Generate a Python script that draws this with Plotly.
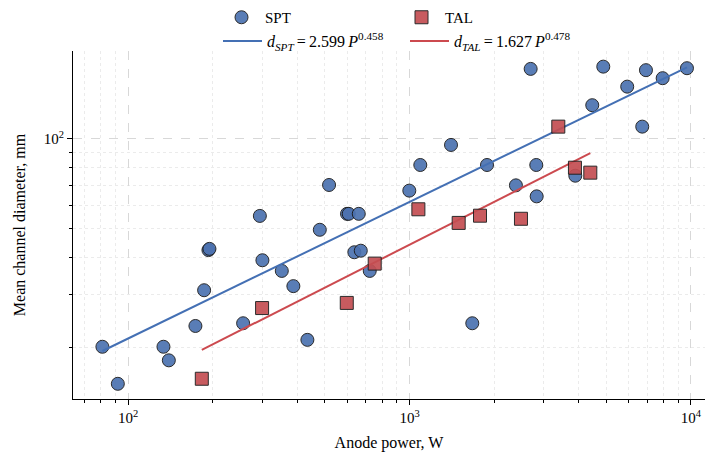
import plotly.graph_objects as go
import numpy as np

# ---------------- data ----------------
spt_power = [81.0, 91.9, 133.5, 139.5, 173.4, 186.2, 192.9, 194.5, 256.2, 293.8,
             300.0, 351.6, 386.5, 433.5, 479.8, 517.6, 599.5, 608.0, 660.0, 636.6,
             671.0, 722.0, 998.0, 1092.0, 1404.0, 1671.0, 1885.0, 2388.0, 2694.0, 2830.0,
             2821.0, 3882.0, 4460.0, 4881.0, 5937.0, 6714.0, 6921.0, 7934.0, 9680.0]
spt_diam = [20.1, 15.1, 20.1, 18.1, 23.6, 31.1, 42.4, 42.8, 24.1, 55.2,
            39.2, 36.1, 32.1, 21.2, 49.6, 70.1, 56.1, 56.1, 56.1, 41.7,
            42.2, 36.1, 67.1, 81.8, 95.5, 24.1, 81.8, 69.9, 171.8, 64.2,
            81.8, 75.3, 129.8, 174.8, 149.8, 110.0, 170.1, 159.9, 172.7]

tal_power = [182.7, 299.2, 598.3, 752.0, 1075.0, 1495.0, 1780.0, 2489.0, 3378.0, 3871.0, 4389.0]
tal_diam = [15.7, 27.1, 28.2, 38.2, 58.1, 52.3, 55.3, 54.0, 110.0, 80.1, 77.1]

# power-law fits d = a * P^b (coefficients from the legend)
spt_a, spt_b = 2.599, 0.458
tal_a, tal_b = 1.627, 0.478

x_tickvals = [100, 1000, 10000]
x_ticktext = ["10<sup>2</sup>", "10<sup>3</sup>", "10<sup>4</sup>"]
y_tickvals = [100]
y_ticktext = ["10<sup>2</sup>"]
x_minor = [m * d for d in (10, 100, 1000) for m in range(2, 10)]
y_minor = [m * d for d in (10, 100) for m in range(2, 10)]

spt_fit_x = np.array([min(spt_power), max(spt_power)])
tal_fit_x = np.array([min(tal_power), max(tal_power)])

FONT = "Liberation Serif, Times New Roman, serif"
BLUE = "#4C72B0"
RED = "#C44E52"
LBLUE = "#4470B4"
LRED = "#CC4A4F"

fig = go.Figure()

fig.add_trace(go.Scatter(
    x=spt_power, y=spt_diam, mode="markers", name="SPT",
    marker=dict(symbol="circle", size=13, color=BLUE, opacity=0.92,
                line=dict(color="#1a1a1a", width=1)),
    legend="legend"))

fig.add_trace(go.Scatter(
    x=spt_fit_x, y=spt_a * spt_fit_x ** spt_b, mode="lines",
    name="<i>d</i><sub><i>SPT</i></sub>\u2009=\u20092.599\u2009<i>P</i><sup>0.458</sup>",
    line=dict(color=LBLUE, width=2), legend="legend2"))

fig.add_trace(go.Scatter(
    x=tal_fit_x, y=tal_a * tal_fit_x ** tal_b, mode="lines",
    name="<i>d</i><sub><i>TAL</i></sub>\u2009=\u20091.627\u2009<i>P</i><sup>0.478</sup>",
    line=dict(color=LRED, width=2), legend="legend2"))

fig.add_trace(go.Scatter(
    x=tal_power, y=tal_diam, mode="markers", name="TAL",
    marker=dict(symbol="square", size=13, color=RED, opacity=0.92,
                line=dict(color="#1a1a1a", width=1)),
    legend="legend"))

axis_common = dict(
    type="log", showline=True, linecolor="black", linewidth=1,
    ticks="outside", ticklen=5, tickcolor="black",
    showgrid=True, gridcolor="#d8d8d8", griddash="dash", gridwidth=1,
    zeroline=False, mirror=False,
    tickfont=dict(family=FONT, size=15, color="black"),
)

fig.update_layout(
    width=705, height=458,
    margin=dict(l=73, r=0, t=51, b=59, autoexpand=False),
    paper_bgcolor="white", plot_bgcolor="white",
    font=dict(family=FONT, color="black"),
    xaxis=dict(**axis_common, range=[1.804, 4.05],
               tickmode="array", tickvals=x_tickvals, ticktext=x_ticktext,
               minor=dict(tickmode="array", tickvals=x_minor, ticks="outside", ticklen=3,
                          tickcolor="black", showgrid=True, gridcolor="#ebebeb",
                          griddash="dot", gridwidth=1),
               title=dict(text="Anode power, W", font=dict(family=FONT, size=16), standoff=11)),
    yaxis=dict(**axis_common, range=[1.128, 2.295],
               tickmode="array", tickvals=y_tickvals, ticktext=y_ticktext,
               minor=dict(tickmode="array", tickvals=y_minor, ticks="outside", ticklen=3,
                          tickcolor="black", showgrid=True, gridcolor="#ebebeb",
                          griddash="dot", gridwidth=1),
               title=dict(text="Mean channel diameter, mm", font=dict(family=FONT, size=16), standoff=14)),
    legend=dict(orientation="h", xref="container", yref="container",
                x=218 / 705, y=1 - 1 / 458, xanchor="left", yanchor="top",
                entrywidth=128, itemwidth=37, font=dict(family=FONT, size=15),
                bgcolor="rgba(0,0,0,0)"),
    legend2=dict(orientation="h", xref="container", yref="container",
                 x=218 / 705, y=1 - 24 / 458, xanchor="left", yanchor="top",
                 entrywidth=133, itemwidth=39, font=dict(family=FONT, size=16),
                 bgcolor="rgba(0,0,0,0)"),
)

fig.write_html("out.html")
